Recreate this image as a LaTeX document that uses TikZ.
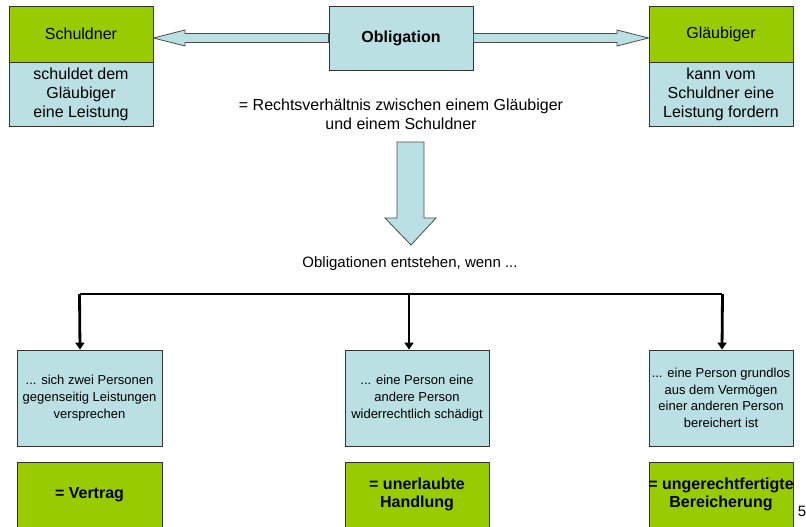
\documentclass[tikz,border=0pt]{standalone}
\usepackage{fontspec}
\setmainfont{Liberation Sans}
\usetikzlibrary{arrows.meta,positioning}
\definecolor{lgreen}{HTML}{99CC00}
\definecolor{lblue}{HTML}{BBE0E3}
\begin{document}
\begin{tikzpicture}[x=1pt,y=-1pt,
  box/.style={draw=black!80,line width=0.8pt,inner sep=0pt,align=center},
  gbox/.style={box,fill=lgreen},
  bbox/.style={box,fill=lblue},
  bigfont/.style={font=\fontsize{16}{19}\selectfont},
  smallfont/.style={font=\fontsize{13}{16.7}\selectfont},
  boldfont/.style={font=\fontsize{16}{18.7}\selectfont\bfseries},
  blockarrow/.style={draw=black!70,line width=0.8pt,fill=lblue},
  conn/.style={line width=2.8pt,-{Triangle[length=7pt,width=9pt]}}]
\useasboundingbox (0,0) rectangle (806,527);
% top boxes
\node[gbox,bigfont,minimum width=144pt,minimum height=56pt] (schg) at (81,34) {Schuldner};
\node[bbox,bigfont,minimum width=144pt,minimum height=64pt] (schb) at (81,94) {schuldet dem\\Gläubiger\\eine Leistung};
\node[bbox,font=\fontsize{16}{19}\selectfont\bfseries,minimum width=144pt,minimum height=64pt] (obl) at (401,38) {Obligation};
\node[gbox,bigfont,minimum width=144pt,minimum height=56pt] (glg) at (721,34) {Gläubiger};
\node[bbox,bigfont,minimum width=144pt,minimum height=64pt] (glb) at (721,94) {kann vom\\Schuldner eine\\Leistung fordern};
% block arrows left and right
\draw[blockarrow] (obl.west |- 0,33.5) -- (185,33.5) -- (185,30) -- (schg.east |- 0,38) -- (185,46) -- (185,42.5) -- (obl.west |- 0,42.5) -- cycle;
\draw[blockarrow] (obl.east |- 0,33.5) -- (617,33.5) -- (617,30) -- (glg.west |- 0,38) -- (617,46) -- (617,42.5) -- (obl.east |- 0,42.5) -- cycle;
% description
\node[bigfont,align=center] (desc) at (401,114) {= Rechtsverhältnis zwischen einem Gläubiger\\und einem Schuldner};
% down block arrow
\draw[blockarrow] (397,142) -- (424,142) -- (424,218) -- (436,218) -- (411,245) -- (385,218) -- (397,218) -- cycle;
\node[font=\fontsize{15}{18}\selectfont] (ent) at (410,264) {Obligationen entstehen, wenn ...};
% bottom boxes
\node[bbox,smallfont,minimum width=145pt,minimum height=96pt] (b1) at (89.5,398) {... sich zwei Personen\\gegenseitig Leistungen\\versprechen};
\node[bbox,smallfont,minimum width=144pt,minimum height=96pt] (b2) at (417,398) {... eine Person eine\\andere Person\\widerrechtlich schädigt};
\node[bbox,smallfont,minimum width=144pt,minimum height=96pt] (b3) at (721,398) {... eine Person grundlos\\aus dem Vermögen\\einer anderen Person\\bereichert ist};
\node[gbox,boldfont,minimum width=145pt,minimum height=65pt] (g1) at (89.5,494.5) {= Vertrag};
\node[gbox,boldfont,minimum width=144pt,minimum height=65pt] (g2) at (417,494.5) {= unerlaubte\\Handlung};
\node[gbox,minimum width=144pt,minimum height=65pt] (g3) at (721,494.5) {};
\node[boldfont,align=center,inner sep=0pt] (g3t) at (721,494.5) {= ungerechtfertigte\\Bereicherung};
% connectors
\coordinate (hl) at (80,294);
\coordinate (hm) at (409,294);
\coordinate (hr) at (722,294);
\draw[line width=2.8pt] (hl) -- (hr);
\draw[conn] ([xshift=-0.5pt]hl) -- (hl |- b1.north);
\draw[conn] (hm) -- (hm |- b2.north);
\draw[conn] ([xshift=0.5pt]hr) -- (hr |- b3.north);
\node[font=\fontsize{15}{17}\selectfont,inner sep=0pt] (pg) at (802,511) {5};
\end{tikzpicture}
\end{document}
